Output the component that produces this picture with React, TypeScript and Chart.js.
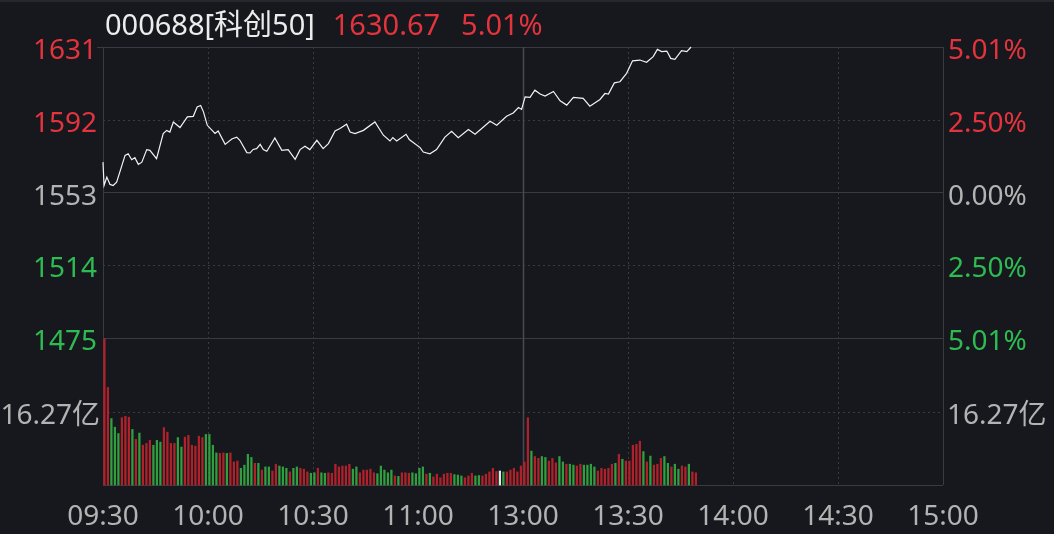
import React, { useEffect, useRef } from 'react';
import { Chart, registerables } from 'chart.js';

Chart.register(...registerables);

// ---------- data ----------
const securityName = '000688[科创50]';
const prevClose = 1552.87;
const lastPrice = 1630.67;
const lastChangeText = '5.01%';

const priceTicks = [1630.67, 1591.77, 1552.87, 1513.97, 1475.07];
const priceTickLabels = ['1631', '1592', '1553', '1514', '1475'];
const pctTickLabels = ['5.01%', '2.50%', '0.00%', '2.50%', '5.01%'];
const tickTone = ['up', 'up', 'flat', 'down', 'down'];

const timeTicks = [0, 30, 60, 90, 120, 150, 180, 210, 240];
const timeLabels = ['09:30', '10:00', '10:30', '11:00', '13:00', '13:30', '14:00', '14:30', '15:00'];

const volumeMaxLabelValue = 32.54; // 亿
const volumeMidValue = 16.27;
const volumeMidLabel = '16.27亿';

// minutes since 09:30 (trading minutes) and index level
const priceMinutes = [
  0, 0.3, 1.1, 2.0, 2.9, 3.9, 6.3, 7.2, 8.2, 9.1,
  10.1, 11.1, 12.5, 13.4, 15.3, 17.2, 18.2, 19.1, 20.1, 22.0,
  24.1, 25.8, 26.9, 27.9, 28.7, 29.8, 32.0, 32.9, 34.9, 36.8,
  38.2, 39.1, 41.1, 42.0, 42.9, 43.9, 44.9, 45.8, 46.8, 49.1,
  51.1, 52.9, 54.9, 56.3, 57.7, 59.1, 61.1, 62.9, 64.4, 66.3,
  67.7, 69.6, 70.6, 72.0, 74.4, 77.7, 80.1, 82.0, 82.8, 83.9,
  86.6, 87.5, 90.6, 91.5, 93.4, 95.3, 97.7, 99.6, 101.5, 104.4,
  106.3, 110.6, 112.5, 115.3, 117.2, 118.7, 119.6, 120.6, 122.0, 123.4,
  124.9, 126.3, 128.7, 130.6, 132.5, 134.4, 137.2, 139.1, 142.0, 143.4,
  144.4, 146.1, 147.7, 149.6, 151.3, 153.4, 155.3, 157.2, 158.4, 159.6,
  161.1, 162.2, 163.4, 165.3, 166.8, 167.7, 168.0,
];
const priceValues = [
  1569.1, 1556.6, 1561.1, 1557.2, 1556.6, 1558.4, 1572.7, 1573.6, 1570.4, 1571.5,
  1567.9, 1569.1, 1575.8, 1575.4, 1571.0, 1584.4, 1586.1, 1585.2, 1590.6, 1587.6,
  1593.3, 1593.6, 1598.6, 1599.4, 1596.0, 1588.8, 1584.4, 1585.8, 1578.6, 1581.5,
  1582.5, 1580.8, 1574.2, 1574.0, 1575.9, 1576.3, 1578.6, 1575.8, 1574.9, 1582.0,
  1575.4, 1575.8, 1570.6, 1575.8, 1577.6, 1575.8, 1580.8, 1576.3, 1579.0, 1585.8,
  1587.1, 1589.4, 1585.2, 1584.4, 1586.1, 1590.6, 1583.5, 1580.4, 1582.2, 1580.4,
  1584.0, 1581.2, 1576.9, 1574.5, 1573.6, 1575.8, 1582.5, 1585.6, 1582.2, 1586.5,
  1584.0, 1591.0, 1588.8, 1593.6, 1595.4, 1598.3, 1597.3, 1604.0, 1603.7, 1607.6,
  1605.5, 1604.4, 1606.9, 1601.9, 1599.6, 1603.7, 1603.2, 1599.0, 1602.6, 1605.8,
  1605.5, 1611.5, 1612.1, 1616.6, 1623.3, 1623.7, 1622.5, 1625.5, 1629.4, 1628.2,
  1628.5, 1624.6, 1624.1, 1628.7, 1628.2, 1630.0, 1630.67,
];

// volume per minute (亿)
const volumeValues = [
  32.4, 21.6, 14.7, 12.8, 11.4, 14.9, 15.2, 15.0, 12.3, 10.1,
  11.5, 8.8, 9.2, 9.9, 8.8, 9.9, 9.5, 12.7, 11.7, 9.2,
  9.2, 10.5, 8.4, 10.6, 11.0, 8.8, 8.6, 10.8, 10.5, 11.2,
  11.2, 8.8, 7.1, 7.0, 7.1, 7.0, 7.1, 5.1, 5.3, 3.7,
  4.4, 6.8, 6.1, 4.8, 4.8, 3.3, 4.0, 4.0, 3.1, 4.6,
  4.2, 4.0, 3.7, 2.9, 3.7, 4.0, 3.7, 3.5, 2.9, 2.6,
  2.7, 3.7, 2.7, 2.6, 2.7, 2.6, 4.6, 4.0, 4.2, 4.2,
  4.6, 3.5, 4.0, 2.7, 3.3, 3.3, 3.5, 2.7, 2.5, 4.2,
  3.3, 2.7, 3.3, 2.0, 1.9, 2.7, 2.7, 2.6, 2.7, 2.5,
  3.7,
  4.0, 2.4, 2.6, 1.8, 2.4, 1.6, 2.4, 2.6, 2.6, 2.3,
  2.2, 2.0, 1.6, 2.0, 2.6, 2.0, 2.1, 2.0, 2.4, 2.9,
  3.7, 3.0, 3.1, 2.9, 2.9, 3.3, 3.7, 2.9, 4.2, 5.1,
  14.9, 7.5, 6.3, 5.9, 6.3, 6.1, 5.3, 5.9, 4.9, 6.3,
  5.1, 4.6, 4.6, 4.4, 4.2, 4.6, 4.4, 4.4, 4.6, 4.0,
  3.1, 3.7, 3.5, 3.7, 4.6, 4.8, 6.8, 5.7, 5.3, 5.3,
  8.8, 9.0, 9.7, 7.4, 5.1, 6.4, 4.4, 4.6, 5.9, 6.3,
  4.8, 4.0, 4.6, 3.5, 4.2, 4.0, 4.6, 2.9, 2.7,
];
// r = up, g = down, w = unchanged
const volumeDirs = [
  'r', 'r', 'g', 'g', 'g', 'r', 'r', 'r', 'g', 'r',
  'g', 'r', 'r', 'r', 'g', 'g', 'g', 'r', 'r', 'r',
  'r', 'g', 'g', 'r', 'r', 'r', 'r', 'r', 'r', 'g',
  'g', 'g', 'g', 'r', 'r', 'g', 'r', 'r', 'r', 'g',
  'g', 'g', 'g', 'r', 'g', 'r', 'g', 'g', 'r', 'r',
  'g', 'g', 'g', 'r', 'g', 'g', 'r', 'r', 'r', 'g',
  'g', 'r', 'g', 'g', 'r', 'r', 'r', 'r', 'r', 'r',
  'r', 'g', 'g', 'r', 'r', 'r', 'r', 'r', 'g', 'g',
  'g', 'g', 'g', 'r', 'g', 'r', 'r', 'r', 'g', 'g',
  'g',
  'g', 'r', 'g', 'r', 'r', 'r', 'r', 'r', 'r', 'g',
  'g', 'g', 'r', 'r', 'r', 'g', 'g', 'r', 'r', 'r',
  'r', 'r', 'w', 'g', 'r', 'r', 'r', 'r', 'r', 'r',
  'r', 'g', 'r', 'r', 'g', 'g', 'r', 'r', 'r', 'g',
  'g', 'r', 'g', 'g', 'r', 'r', 'g', 'g', 'g', 'g',
  'r', 'r', 'r', 'r', 'r', 'g', 'r', 'g', 'r', 'r',
  'r', 'r', 'r', 'g', 'r', 'g', 'r', 'r', 'r', 'g',
  'g', 'r', 'g', 'g', 'r', 'r', 'g', 'r', 'r',
];

// ---------- style ----------
const W = 1054;
const H = 534;
const BG = '#16181d';
const RED_TEXT = '#e3343e';
const GREEN_TEXT = '#2dbb52';
const GREY_TEXT = '#b3b3b3';
const WHITE_TEXT = '#ececec';
const BAR_RED = '#b0222b';
const BAR_GREEN = '#2f9f40';
const BAR_WHITE = '#e6e6e6';
const GRID = '#383b42';
const GRID_MID = '#474a51';
const FONT = '"Noto Sans", "Noto Sans CJK SC", sans-serif';
const PRICE_FRAC = 291 / 438;

const toneColor = (t: string) => (t === 'up' ? RED_TEXT : t === 'down' ? GREEN_TEXT : GREY_TEXT);
const barColor = (d: string) => (d === 'r' ? BAR_RED : d === 'g' ? BAR_GREEN : BAR_WHITE);

function text(ctx: CanvasRenderingContext2D, s: string, x: number, y: number, align: CanvasTextAlign, color: string, size: number) {
  ctx.font = `${size}px ${FONT}`;
  ctx.fillStyle = color;
  ctx.textAlign = align;
  ctx.textBaseline = 'alphabetic';
  ctx.fillText(s, x, y);
  return ctx.measureText(s).width;
}

const decorPlugin = {
  id: 'decor',
  beforeDraw(chart: any) {
    const { ctx } = chart;
    ctx.save();
    ctx.fillStyle = BG;
    ctx.fillRect(0, 0, W, H);
    ctx.fillStyle = '#25272c';
    ctx.fillRect(0, 0, W, 2);
    ctx.restore();
  },
  beforeDatasetsDraw(chart: any) {
    const { ctx, chartArea: a, scales } = chart;
    const yP = scales.yPrice;
    const yV = scales.yVol;
    const xs = scales.x;
    ctx.save();
    ctx.lineWidth = 1;
    const hline = (y: number, dotted: boolean, x0: number) => {
      ctx.strokeStyle = GRID;
      ctx.setLineDash(dotted ? [2, 3] : []);
      ctx.beginPath();
      ctx.moveTo(x0, Math.round(y) + 0.5);
      ctx.lineTo(a.right, Math.round(y) + 0.5);
      ctx.stroke();
    };
    priceTicks.forEach((p, i) => hline(yP.getPixelForValue(p), i % 2 === 1, i === 0 ? a.left - 6 : a.left));
    hline(yV.getPixelForValue(volumeMidValue), true, a.left);
    hline(yV.getPixelForValue(0), false, a.left);
    timeTicks.forEach((t, i) => {
      const x = Math.round(xs.getPixelForValue(t)) + 0.5;
      const edge = i === 0 || i === timeTicks.length - 1;
      const mid = i === 4;
      ctx.strokeStyle = mid ? GRID_MID : GRID;
      ctx.lineWidth = mid ? 1.5 : 1;
      ctx.setLineDash(edge || mid ? [] : [2, 3]);
      ctx.beginPath();
      ctx.moveTo(x, a.top);
      ctx.lineTo(x, a.bottom);
      ctx.stroke();
    });
    ctx.restore();
  },
  afterDraw(chart: any) {
    const { ctx, chartArea: a, scales } = chart;
    const yP = scales.yPrice;
    const yV = scales.yVol;
    const xs = scales.x;
    ctx.save();
    // title
    let x = 105;
    x += text(ctx, securityName, x, 35, 'left', WHITE_TEXT, 29) + 18;
    x += text(ctx, lastPrice.toFixed(2), x, 35, 'left', RED_TEXT, 29) + 21;
    text(ctx, lastChangeText, x, 35, 'left', RED_TEXT, 29);
    // y labels
    priceTicks.forEach((p, i) => {
      const y = yP.getPixelForValue(p);
      text(ctx, priceTickLabels[i], a.left - 6, y + 12, 'right', toneColor(tickTone[i]), 28);
      text(ctx, pctTickLabels[i], a.right + 5, y + 12, 'left', toneColor(tickTone[i]), 28);
    });
    const vy = yV.getPixelForValue(volumeMidValue);
    text(ctx, volumeMidLabel, a.left - 3, vy + 12, 'right', GREY_TEXT, 28);
    text(ctx, volumeMidLabel, a.right + 4, vy + 12, 'left', GREY_TEXT, 28);
    // x labels
    timeTicks.forEach((t, i) => {
      text(ctx, timeLabels[i], xs.getPixelForValue(t), a.bottom + 40, 'center', GREY_TEXT, 28);
    });
    ctx.restore();
  },
};

export default function App() {
  const ref = useRef<HTMLCanvasElement>(null);
  useEffect(() => {
    document.body.style.margin = '0';
    document.body.style.background = BG;
    const high = lastPrice;
    const low = 2 * prevClose - lastPrice;
    const priceMin = low - ((high - low) * (1 - PRICE_FRAC)) / PRICE_FRAC;
    const volAxisMax = volumeMaxLabelValue / (1 - PRICE_FRAC);
    const chart = new Chart(ref.current as HTMLCanvasElement, {
      type: 'bar',
      data: {
        datasets: [
          {
            type: 'line',
            data: priceMinutes.map((m, i) => ({ x: m, y: priceValues[i] })),
            xAxisID: 'x',
            yAxisID: 'yPrice',
            borderColor: '#f2f2f2',
            borderWidth: 1.2,
            pointRadius: 0,
            tension: 0,
            clip: false,
            order: 0,
          } as any,
          {
            type: 'bar',
            data: volumeValues.map((v, i) => ({ x: i + 0.4, y: v })),
            xAxisID: 'x',
            yAxisID: 'yVol',
            backgroundColor: volumeDirs.map(barColor),
            barThickness: 1.6,
            clip: false,
            order: 1,
          } as any,
        ],
      },
      options: {
        responsive: false,
        animation: false,
        devicePixelRatio: 1,
        layout: { padding: { left: 103, right: 111, top: 47, bottom: 49 } },
        plugins: { legend: { display: false }, tooltip: { enabled: false } },
        scales: {
          x: { type: 'linear', min: 0, max: 240, display: false, offset: false },
          yPrice: { type: 'linear', min: priceMin, max: high, display: false },
          yVol: { type: 'linear', min: 0, max: volAxisMax, display: false },
        },
      } as any,
      plugins: [decorPlugin],
    });
    return () => chart.destroy();
  }, []);
  return (
    <div style={{ width: W, height: H }}>
      <canvas ref={ref} width={W} height={H} style={{ display: 'block', width: W, height: H }} />
    </div>
  );
}
